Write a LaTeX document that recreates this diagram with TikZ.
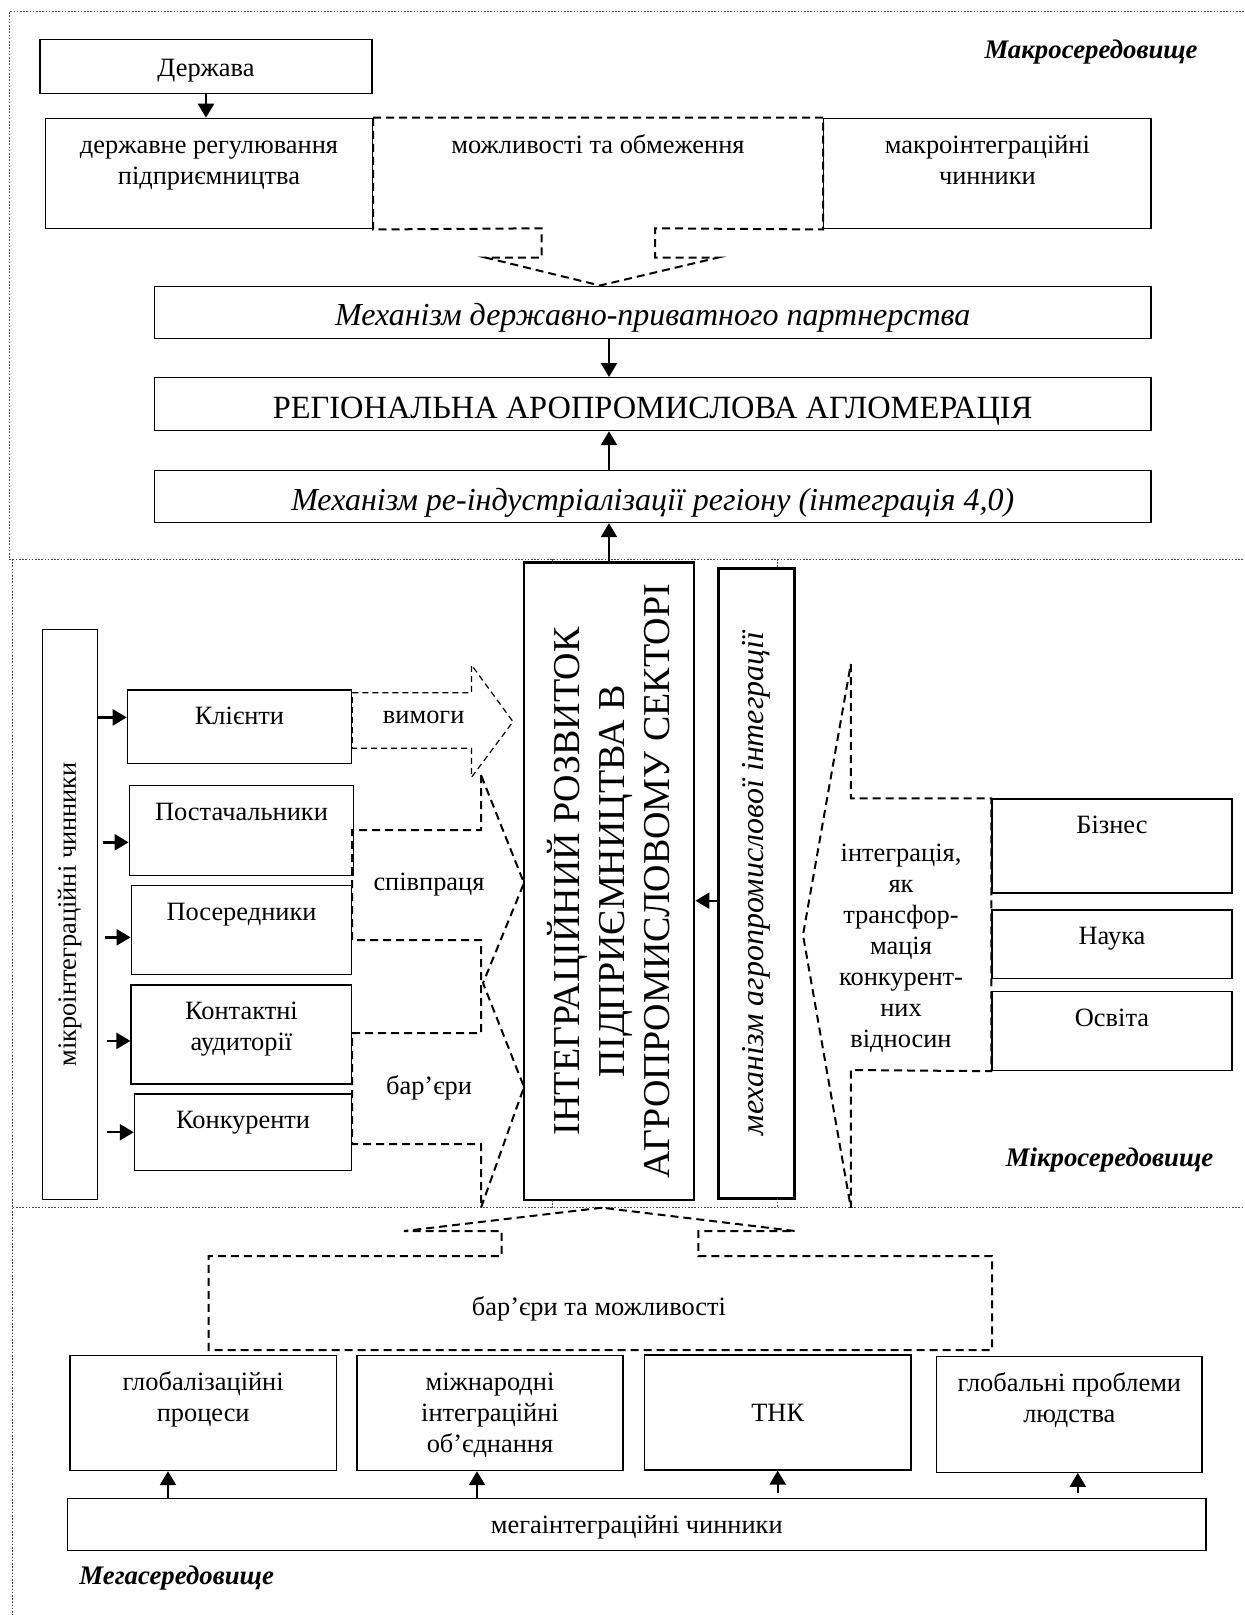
\documentclass[tikz,border=0pt]{standalone}
\usepackage{fontspec}
\setmainfont{Liberation Serif}
\usepackage{tikz}
\usetikzlibrary{arrows.meta}
\tikzset{
  zone/.style={draw=black!70, line width=0.5pt, dash pattern=on 0.8pt off 0.8pt},
  cell/.style={
    draw,
    line width=0.6pt,
    anchor=north,
    align=flush center,
    inner xsep=0pt,
    inner ysep=0pt,
    text height=17.5pt,
    font=\fontsize{13.2}{15.5}\selectfont
  },
  plainbox/.style={draw, line width=0.6pt, align=center, inner sep=0pt, font=\fontsize{13.2}{15.5}\selectfont},
  bar/.style={cell, font=\itshape\fontsize{16}{19}\selectfont},
  heavy/.style={draw, line width=1.4pt, align=center, inner sep=0pt, rotate=90},
  tag/.style={inner sep=0pt, text height=7pt, text depth=0pt, font=\fontsize{13.2}{15.5}\selectfont},
  envtag/.style={inner sep=0pt, font=\bfseries\itshape\fontsize{13.4}{16}\selectfont},
  link/.style={line width=1.2pt, -{Triangle[length=7pt,width=8pt]}},
  outline/.style={line width=1pt, dash pattern=on 4pt off 2.5pt},
  fineoutline/.style={line width=0.6pt, dash pattern=on 3pt off 2pt}
}

\begin{document}
\begin{tikzpicture}[x=0.5pt,y=-0.5pt]
\path[use as bounding box] (0,0) rectangle (1244,1615);

% environment frames
\draw[zone] (1244,12) -- (9,12) -- (9,559) -- (1244,559);
\draw[zone] (12,559) -- (12,1207.7) -- (1244,1207.7);
\draw[zone] (12,1207.7) -- (12,1615);

% macro level
\node[envtag, anchor=east] (macroenv) at (1198,51.7) {Макросередовище};
\node[cell, text width=166pt, text height=18.5pt, text depth=8.5pt] (state) at (206,39.3) {Держава};
\node[cell, text width=163.5pt, text depth=37.8pt] (regul) at (209,117.7) {державне регулювання\\підприємництва};
\node[cell, text width=163.6pt, text depth=37.8pt] (macrof) at (987.4,117.7) {макроінтеграційні\\чинники};
\node[tag] (opps) at (598,146.7) {можливості та обмеження};
\draw[link] (state.south) -- (regul.north -| state.south);
\draw[outline] (regul.north east) -- (macrof.north west) -- (macrof.south west) -- (655,228.3) -- (655,257.7)
  -- (717.5,257.7) -- (600,285.5) -- (486,257.7) -- (541.5,257.7) -- (541.5,228.3) -- (regul.south east) -- cycle;

\node[bar, text width=498.2pt, text height=19.6pt, text depth=6.4pt] (ppp) at (652.7,286) {Механізм державно-приватного партнерства};
\node[cell, text width=498.2pt, text height=20.5pt, text depth=6pt, font=\fontsize{16.2}{19}\selectfont] (agglo) at (652.7,377) {РЕГІОНАЛЬНА АРОПРОМИСЛОВА АГЛОМЕРАЦІЯ};
\node[bar, text width=498.2pt, text height=19.9pt, text depth=6.1pt] (reind) at (652.7,470) {Механізм ре-індустріалізації регіону (інтеграція 4,0)};

% micro level
\node[heavy, minimum width=318.8pt, minimum height=85pt, font=\fontsize{19}{22.5}\selectfont] (integ) at (609,881.2)
  {ІНТЕГРАЦІЙНИЙ РОЗВИТОК\\ПІДПРИЄМНИЦТВА В\\АГРОПРОМИСЛОВОМУ СЕКТОРІ};
\node[heavy, minimum width=315.1pt, minimum height=38pt, font=\itshape\fontsize{16}{19}\selectfont] (mech) at (756.3,883.4)
  {механізм агропромислової інтеграції};
\draw[link] (integ.east) -- (reind.south -| integ.east);
\draw[link] (reind.north -| integ.east) -- (agglo.south -| integ.east);
\draw[link] (ppp.south -| integ.east) -- (agglo.north -| integ.east);
\draw[zone] (552.7,559) -- (552.7,562.3);
\draw[zone] (777,559) -- (777,568.3);
\draw[zone] (552.7,1200) -- (552.7,1207.7);
\draw[zone] (777,1198.5) -- (777,1207.7);

\node[plainbox, rotate=90, minimum width=285pt, minimum height=27.5pt] (mikro) at (69.75,914.3) {мікроінтеграційні чинники};
\node[cell, text width=112.2pt, text depth=19.2pt] (client) at (239.5,689.3) {Клієнти};
\node[cell, text width=112.3pt, text depth=27.5pt] (supp) at (241.5,785) {Постачальники};
\node[cell, text width=110.3pt, text depth=27pt] (mediat) at (241.5,885) {Посередники};
\node[cell, text width=110.4pt, text depth=32pt] (contact) at (241.4,984.3) {Контактні\\аудиторії};
\node[cell, text width=108.7pt, text depth=20.85pt] (rival) at (243.1,1093.3) {Конкуренти};

\coordinate (cl) at ([yshift=4.6pt]client.west);
\coordinate (su) at ([yshift=-5.85pt]supp.west);
\coordinate (me) at ([yshift=-3.6pt]mediat.west);
\coordinate (co) at ([yshift=-3.25pt]contact.west);
\draw[link] (mikro.south |- cl) -- (cl);
\draw[link, shorten <=2.4pt] (mikro.south |- su) -- (su);
\draw[link, shorten <=3.7pt] (mikro.south |- me) -- (me);
\draw[link, shorten <=4.4pt] (mikro.south |- co) -- (co);
\draw[link, shorten <=4.4pt] (mikro.south |- rival.west) -- (rival.west);

\node[tag] (demands) at (423.7,716.7) {вимоги};
\node[tag] (coop) at (429,883) {співпраця};
\node[tag] (barr) at (429,1087) {бар’єри};
\draw[fineoutline] (client.east |- 0,692.7) -- (471.5,692.7) -- (471.5,665) -- (513,721.7) -- (471.5,777.3)
  -- (471.5,748.3) -- (client.east |- 0,748.3) -- cycle;
\draw[outline] (481,775) -- (481,830) -- (352,830) -- (352,940) -- (481,940) -- (481,1033) -- (352,1033)
  -- (352,1144) -- (481,1144) -- (481,1207.7) -- (524,1087) -- (483,983) -- (524,883) -- cycle;

\node[cell, text width=120pt, text depth=29.5pt] (business) at (1112,798.3) {Бізнес};
\node[cell, text width=120pt, text depth=16.7pt] (science) at (1112,909.3) {Наука};
\node[cell, text width=120pt, text depth=22.15pt] (educ) at (1112,990.7) {Освіта};
\node[tag, text width=90pt, align=flush center, text depth=93pt] (transf) at (901,947.4)
  {інтеграція,\\як\\трансфор-\\мація\\конкурент-\\них\\відносин};
\draw[outline] (850.8,664) -- (850.8,798.3) -- (business.north west) -- (educ.south west) -- (850.8,1070)
  -- (850.8,1207.7) -- (803,935) -- cycle;
\coordinate (mk) at ([yshift=-8.65pt]mech.north);
\draw[link] (mk) -- (mk -| integ.south);
\node[envtag] (microenv) at (1109.5,1160) {Мікросередовище};

% mega level
\node[tag] (bam) at (599,1308) {бар’єри та можливості};
\draw[outline] (602,1207.7) -- (404,1231) -- (501.7,1231) -- (501.7,1256) -- (208.7,1256) -- (208.7,1350)
  -- (992,1350) -- (992,1256) -- (698.4,1256) -- (698.4,1231) -- (795,1231) -- cycle;

\node[cell, text width=133.3pt, text depth=40pt] (globproc) at (203.2,1355) {глобалізаційні\\процеси};
\node[cell, text width=133pt, text depth=40pt] (intunion) at (490,1355) {міжнародні\\інтеграційні\\об’єднання};
\node[plainbox, minimum width=133.3pt, minimum height=57.5pt] (tnc) at (777.7,1412.5) {ТНК};
\node[cell, text width=132.7pt, text depth=40.35pt] (globprob) at (1069.3,1356) {глобальні проблеми\\людства};
\node[cell, text width=569.2pt, text depth=8.5pt] (mega) at (636.8,1498) {мегаінтеграційні чинники};

\coordinate (g1) at ([xshift=-17.6pt]globproc.south);
\coordinate (g2) at ([xshift=-6.5pt]intunion.south);
\coordinate (g4) at ([xshift=4.25pt]globprob.south);
\draw[link] (g1 |- mega.north) -- (g1);
\draw[link] (g2 |- mega.north) -- (g2);
\draw[link, shorten <=2.5pt] (mega.north -| tnc.south) -- (tnc.south);
\draw[link, shorten <=2.5pt] (g4 |- mega.north) -- (g4);

\node[envtag, anchor=west] (megaenv) at (79,1578) {Мегасередовище};
\end{tikzpicture}
\end{document}
